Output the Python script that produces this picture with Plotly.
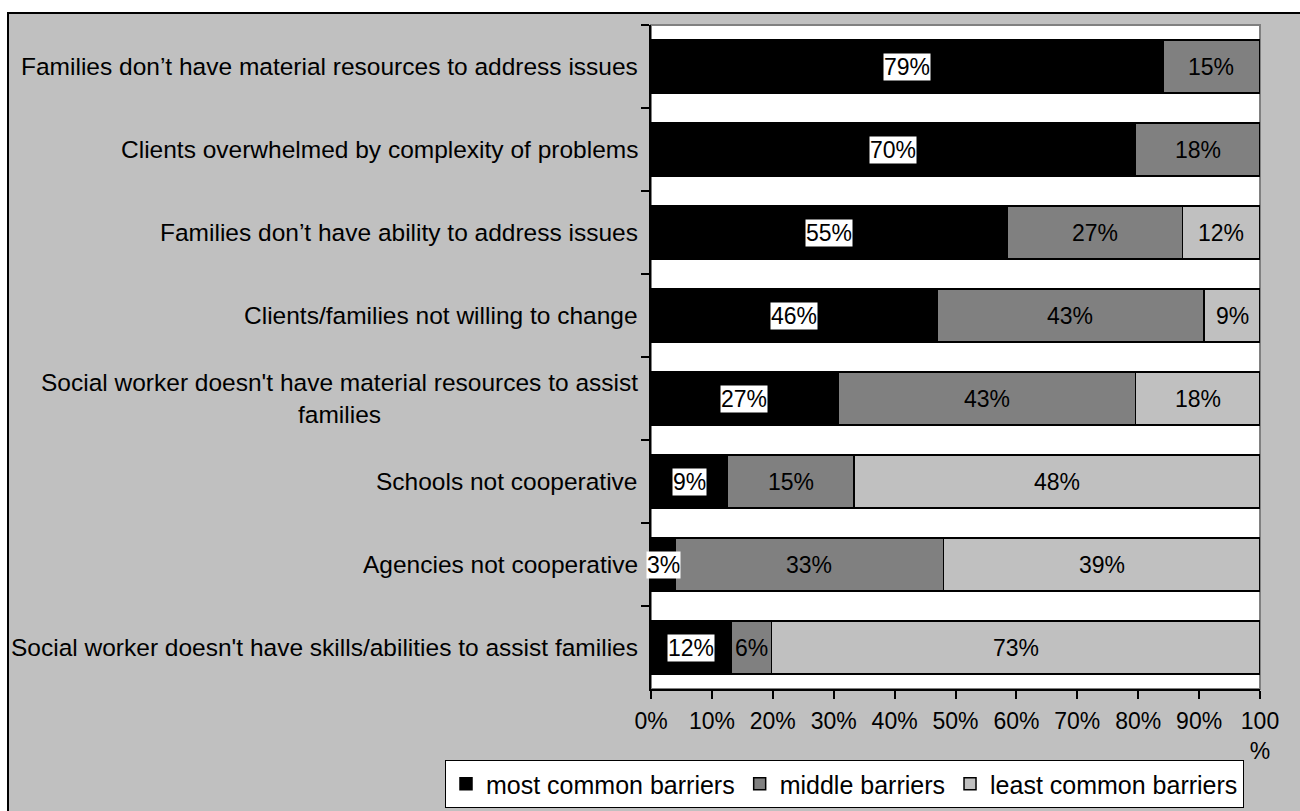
import plotly.graph_objects as go

# Barriers, listed top to bottom
categories = [
    "Families don’t have material resources to address issues",
    "Clients overwhelmed by complexity of problems",
    "Families don’t have ability to address issues",
    "Clients/families not willing to change",
    "Social worker doesn't have material resources to assist<br>families",
    "Schools not cooperative",
    "Agencies not cooperative",
    "Social worker doesn't have skills/abilities to assist families",
]

# Share of respondents (%) per barrier group
most_common = [79, 70, 55, 46, 27, 9, 3, 12]
middle = [15, 18, 27, 43, 43, 15, 33, 6]
least_common = [0, 0, 12, 9, 18, 48, 39, 73]

series_names = ["most common barriers", "middle barriers", "least common barriers"]
series_colors = ["#000000", "#808080", "#C0C0C0"]

x_ticks = [0, 10, 20, 30, 40, 50, 60, 70, 80, 90, 100]
x_tick_text = ["0%", "10%", "20%", "30%", "40%", "50%", "60%", "70%", "80%", "90%", "100<br>%"]

FONT = "Arial, Liberation Sans, sans-serif"
FS_LABEL = 24.5
FS_VALUE = 23
FS_TICK = 23
FS_LEGEND = 25

# Plot-area geometry (pixels) used to place items outside the axes
W, H = 1300, 811
PL, PR, PT, PB = 651, 1260, 25, 689


def px_x(px):
    return (px - PL) / (PR - PL)


def px_y(py):
    return (PB - py) / (PB - PT)


fig = go.Figure()
all_series = [most_common, middle, least_common]
for name, vals, col in zip(series_names, all_series, series_colors):
    fig.add_trace(go.Bar(
        y=categories, x=vals, name=name, orientation="h",
        marker=dict(color=col, line=dict(color="#000000", width=1.5)),
        hoverinfo="skip",
    ))

# Value labels centred in each normalised segment
annotations = []
for i, cat in enumerate(categories):
    row = [s[i] for s in all_series]
    total = sum(row)
    cum = 0
    for k, v in enumerate(row):
        if v > 0:
            centre = (cum + v / 2) / total * 100
            annotations.append(dict(
                x=centre, y=cat, xref="x", yref="y", text=f"{v}%",
                showarrow=False, font=dict(family=FONT, size=FS_VALUE, color="#000000"),
                bgcolor="#FFFFFF" if k == 0 else None, borderpad=0,
            ))
        cum += v

# Category labels, centred line by line, right-aligned next to the axis
for cat in categories:
    annotations.append(dict(
        x=0, y=cat, xref="paper", yref="y", xanchor="right", xshift=-11,
        text=cat, align="center", showarrow=False,
        font=dict(family=FONT, size=FS_LABEL, color="#000000"),
    ))

shapes = [
    # white plot area with grey frame
    dict(type="rect", xref="paper", yref="paper", x0=0, x1=1, y0=0, y1=1,
         fillcolor="#FFFFFF", line=dict(color="#808080", width=2), layer="below"),
    # white page margin above and left of the chart frame
    dict(type="rect", xref="paper", yref="paper",
         x0=px_x(0), x1=px_x(W), y0=px_y(12), y1=px_y(0),
         fillcolor="#FFFFFF", line=dict(width=0), layer="above"),
    dict(type="rect", xref="paper", yref="paper",
         x0=px_x(0), x1=px_x(7), y0=px_y(H), y1=px_y(0),
         fillcolor="#FFFFFF", line=dict(width=0), layer="above"),
    # chart frame: top and left edges
    dict(type="line", xref="paper", yref="paper",
         x0=px_x(7), x1=px_x(W), y0=px_y(13), y1=px_y(13),
         line=dict(color="#000000", width=2), layer="above"),
    dict(type="line", xref="paper", yref="paper",
         x0=px_x(8), x1=px_x(8), y0=px_y(12), y1=px_y(H),
         line=dict(color="#000000", width=2), layer="above"),
]

fig.update_layout(
    width=W, height=H,
    margin=dict(l=PL, r=W - PR, t=PT, b=H - PB, pad=0, autoexpand=False),
    barmode="stack", barnorm="percent", bargap=0.357,
    paper_bgcolor="#C0C0C0", plot_bgcolor="rgba(0,0,0,0)",
    font=dict(family=FONT, size=FS_TICK, color="#000000"),
    showlegend=True,
    legend=dict(
        orientation="h", x=px_x(445), xanchor="left", y=px_y(760), yanchor="top",
        bgcolor="#FFFFFF", bordercolor="#000000", borderwidth=1,
        font=dict(family=FONT, size=FS_LEGEND, color="#000000"), traceorder="normal",
        itemwidth=30,
    ),
    xaxis=dict(
        range=[0, 100], tickvals=x_ticks, ticktext=x_tick_text,
        showgrid=False, zeroline=False, showline=True, linecolor="#000000", linewidth=2,
        ticks="outside", ticklen=8, tickwidth=2, tickcolor="#000000",
        ticklabelstandoff=2, fixedrange=True,
    ),
    yaxis=dict(
        autorange="reversed", showticklabels=False, showgrid=False, zeroline=False,
        showline=True, linecolor="#000000", linewidth=2,
        ticks="outside", tickson="boundaries", ticklen=8, tickwidth=2, tickcolor="#000000",
        fixedrange=True,
    ),
    annotations=annotations,
    shapes=shapes,
)

fig.write_html("out.html", config={"displayModeBar": False})
